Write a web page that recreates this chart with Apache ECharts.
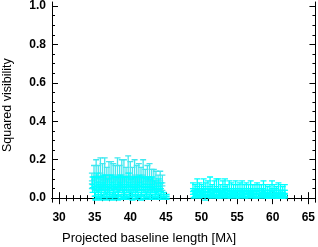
<!DOCTYPE html>
<html><head><meta charset="utf-8">
<script src="https://cdn.jsdelivr.net/npm/echarts@6/dist/echarts.min.js"></script>
<style>html,body{margin:0;padding:0;background:#fff}#c{width:318px;height:247px}</style>
</head><body><div id="c"></div>
<script>
// Cluster 1, upper band
const baseA = [34.6,34.9,35.2,35.5,35.8,36.1,36.4,36.7,37.0,37.3,37.6,37.9,38.2,38.5,38.8,39.1,39.4,39.7,40.0,40.3,40.6,40.9,41.2,41.5,41.8,42.1,42.4,42.7,43.0,43.3,43.6,43.9,44.2,44.5];
const visA  = [0.09,0.11,0.12,0.10,0.13,0.11,0.12,0.10,0.11,0.12,0.10,0.11,0.12,0.10,0.12,0.11,0.10,0.13,0.11,0.10,0.12,0.10,0.11,0.10,0.12,0.09,0.10,0.11,0.09,0.10,0.09,0.08,0.09,0.08];
const errA  = [0.04,0.06,0.08,0.07,0.08,0.07,0.09,0.06,0.08,0.07,0.08,0.06,0.09,0.07,0.08,0.09,0.06,0.09,0.08,0.06,0.08,0.07,0.07,0.06,0.08,0.06,0.07,0.07,0.06,0.05,0.05,0.04,0.05,0.04];
// Cluster 1, middle band
const baseB = [34.7,35.0,35.3,35.6,35.9,36.2,36.5,36.8,37.1,37.4,37.7,38.0,38.3,38.6,38.9,39.2,39.5,39.8,40.1,40.4,40.7,41.0,41.3,41.6,41.9,42.2,42.5,42.8,43.1,43.4,43.7,44.0,44.3];
const visB  = [0.07,0.06,0.08,0.07,0.06,0.08,0.07,0.06,0.07,0.08,0.06,0.07,0.06,0.08,0.07,0.06,0.07,0.08,0.06,0.07,0.06,0.07,0.08,0.06,0.07,0.06,0.07,0.06,0.07,0.06,0.05,0.06,0.05];
const errB  = [0.04,0.05,0.05,0.04,0.05,0.04,0.05,0.04,0.05,0.04,0.05,0.04,0.05,0.04,0.04,0.05,0.04,0.05,0.04,0.04,0.05,0.04,0.04,0.05,0.04,0.04,0.04,0.04,0.04,0.03,0.03,0.04,0.03];
// Cluster 1, low band
const baseC = [35.1,35.5,35.9,36.3,36.7,37.1,37.5,37.9,38.3,38.7,39.1,39.5,39.9,40.3,40.7,41.1,41.5,41.9,42.3,42.7,43.1,43.5,43.9,44.3,44.7,45.1];
const visC  = [0.01,0.02,0.01,0.02,0.01,0.02,0.01,0.02,0.01,0.01,0.02,0.01,0.02,0.01,0.01,0.02,0.01,0.01,0.02,0.01,0.01,0.02,0.01,0.01,0.02,0.01];
const errC  = [0.02,0.02,0.02,0.01,0.02,0.01,0.02,0.01,0.02,0.01,0.02,0.01,0.01,0.02,0.01,0.01,0.02,0.01,0.01,0.01,0.01,0.01,0.01,0.01,0.01,0.01];
// Cluster 2
const baseD = [48.8,49.1,49.4,49.7,50.0,50.3,50.6,50.9,51.2,51.5,51.8,52.1,52.4,52.7,53.0,53.3,53.6,53.9,54.2,54.5,54.8,55.1,55.4,55.7,56.0,56.3,56.6,56.9,57.2,57.5,57.8,58.1,58.4,58.7,59.0,59.3,59.6,59.9,60.2,60.5,60.8,61.1,61.4,61.7];
const visD  = [0.05,0.04,0.06,0.05,0.04,0.06,0.05,0.05,0.06,0.04,0.05,0.06,0.05,0.04,0.05,0.06,0.04,0.05,0.05,0.04,0.05,0.04,0.05,0.05,0.04,0.05,0.04,0.05,0.04,0.04,0.05,0.04,0.04,0.05,0.04,0.03,0.04,0.05,0.04,0.03,0.04,0.04,0.03,0.04];
const errD  = [0.03,0.03,0.04,0.03,0.03,0.04,0.03,0.04,0.05,0.03,0.04,0.04,0.05,0.03,0.04,0.04,0.03,0.04,0.03,0.03,0.04,0.03,0.03,0.04,0.03,0.03,0.03,0.04,0.03,0.03,0.03,0.03,0.03,0.04,0.03,0.03,0.03,0.04,0.03,0.03,0.04,0.03,0.03,0.03];
const baseE = [48.9,49.3,49.7,50.1,50.5,50.9,51.3,51.7,52.1,52.5,52.9,53.3,53.7,54.1,54.5,54.9,55.3,55.7,56.1,56.5,56.9,57.3,57.7,58.1,58.5,58.9,59.3,59.7,60.1,60.5,60.9,61.3,61.7];
const visE  = [0.02,0.03,0.02,0.03,0.02,0.03,0.02,0.03,0.02,0.03,0.02,0.03,0.02,0.02,0.03,0.02,0.02,0.03,0.02,0.02,0.03,0.02,0.02,0.02,0.03,0.02,0.02,0.02,0.02,0.03,0.02,0.02,0.02];
const errE  = [0.02,0.02,0.02,0.02,0.03,0.02,0.02,0.02,0.02,0.02,0.02,0.02,0.02,0.02,0.02,0.02,0.02,0.02,0.02,0.02,0.02,0.02,0.02,0.02,0.02,0.02,0.02,0.02,0.02,0.02,0.02,0.02,0.02];
// Axis ticks
const xLabels = [30,35,40,45,50,55,60,65];
const xMinor = [29,30,31,32,33,34,35,36,37,38,39,40,41,42,43,44,45,46,47,48,49,50,51,52,53,54,55,56,57,58,59,60,61,62,63,64,65,66];
const yLabels = [0,0.2,0.4,0.6,0.8,1.0];
const yMinor = [0,0.05,0.1,0.15,0.2,0.25,0.3,0.35,0.4,0.45,0.5,0.55,0.6,0.65,0.7,0.75,0.8,0.85,0.9,0.95,1.0];

const chart = echarts.init(document.getElementById('c'));
const FONT = 'Liberation Sans';
function errSeries(xs, vs, es, color) {
  return {
    type: 'custom', xAxisIndex: 0, yAxisIndex: 0, clip: true,
    data: xs.map((x, i) => [x, vs[i], es[i]]),
    renderItem: function (params, api) {
      const x = api.value(0), v = api.value(1), e = api.value(2);
      const pt = api.coord([x, v]);
      const lo = api.coord([x, v - e]);
      const hi = api.coord([x, v + e]);
      const st = { stroke: color, lineWidth: 1.3 };
      const w = 3;
      return {
        type: 'group', children: [
          { type: 'line', shape: { x1: pt[0], y1: lo[1], x2: pt[0], y2: hi[1] }, style: st },
          { type: 'line', shape: { x1: pt[0] - w, y1: lo[1], x2: pt[0] + w, y2: lo[1] }, style: st },
          { type: 'line', shape: { x1: pt[0] - w, y1: hi[1], x2: pt[0] + w, y2: hi[1] }, style: st },
          { type: 'line', shape: { x1: pt[0] - w, y1: pt[1], x2: pt[0] + w, y2: pt[1] }, style: st },
          { type: 'line', shape: { x1: pt[0] - w, y1: pt[1] + 3, x2: pt[0] + w, y2: pt[1] + 3 }, style: st }
        ]
      };
    }
  };
}
const axisLine = { show: true, lineStyle: { color: '#000', width: 1 } };
function xAx(pos, ticks, len, labels) {
  return {
    type: 'value', position: pos, min: 29, max: 66, splitLine: { show: false },
    axisLine: axisLine,
    axisTick: { show: true, inside: true, length: len, customValues: ticks, lineStyle: { color: '#000' } },
    axisLabel: labels ? { show: true, customValues: xLabels, margin: 10, color: '#000', fontFamily: FONT, fontSize: 12, fontWeight: 'bold', formatter: v => String(v) } : { show: false }
  };
}
function yAx(pos, ticks, len, labels) {
  return {
    type: 'value', position: pos, min: -0.02, max: 1.02, splitLine: { show: false },
    axisLine: axisLine,
    axisTick: { show: true, inside: true, length: len, customValues: ticks, lineStyle: { color: '#000' } },
    axisLabel: labels ? { show: true, customValues: yLabels, margin: 6, color: '#000', fontFamily: FONT, fontSize: 12, fontWeight: 'bold', formatter: v => v.toFixed(1) } : { show: false }
  };
}
chart.setOption({
  animation: false,
  grid: { left: 52, right: 1, top: 2, bottom: 45, containLabel: false },
  xAxis: [xAx('bottom', xMinor, 3, true), xAx('bottom', xLabels, 6, false), xAx('top', xMinor, 3, false), xAx('top', xLabels, 6, false)],
  yAxis: [yAx('left', yMinor, 3, true), yAx('left', yLabels, 6, false), yAx('right', yMinor, 3, false), yAx('right', yLabels, 6, false)],
  series: [
    errSeries(baseA, visA, errA, '#40e8f0'),
    errSeries(baseB, visB, errB, '#00ffff'),
    errSeries(baseC, visC, errC, '#00ffff'),
    errSeries(baseD, visD, errD, '#00ffff'),
    errSeries(baseE, visE, errE, '#00ffff')
  ],
  graphic: [
    { type: 'text', x: 62, y: 232, style: { text: 'Projected baseline length [Mλ]', fontFamily: FONT, fontSize: 13, fill: '#000' } },
    { type: 'text', x: 1, y: 152, rotation: Math.PI / 2, style: { text: 'Squared visibility', fontFamily: FONT, fontSize: 12.5, fill: '#000' } }
  ]
});
</script></body></html>
